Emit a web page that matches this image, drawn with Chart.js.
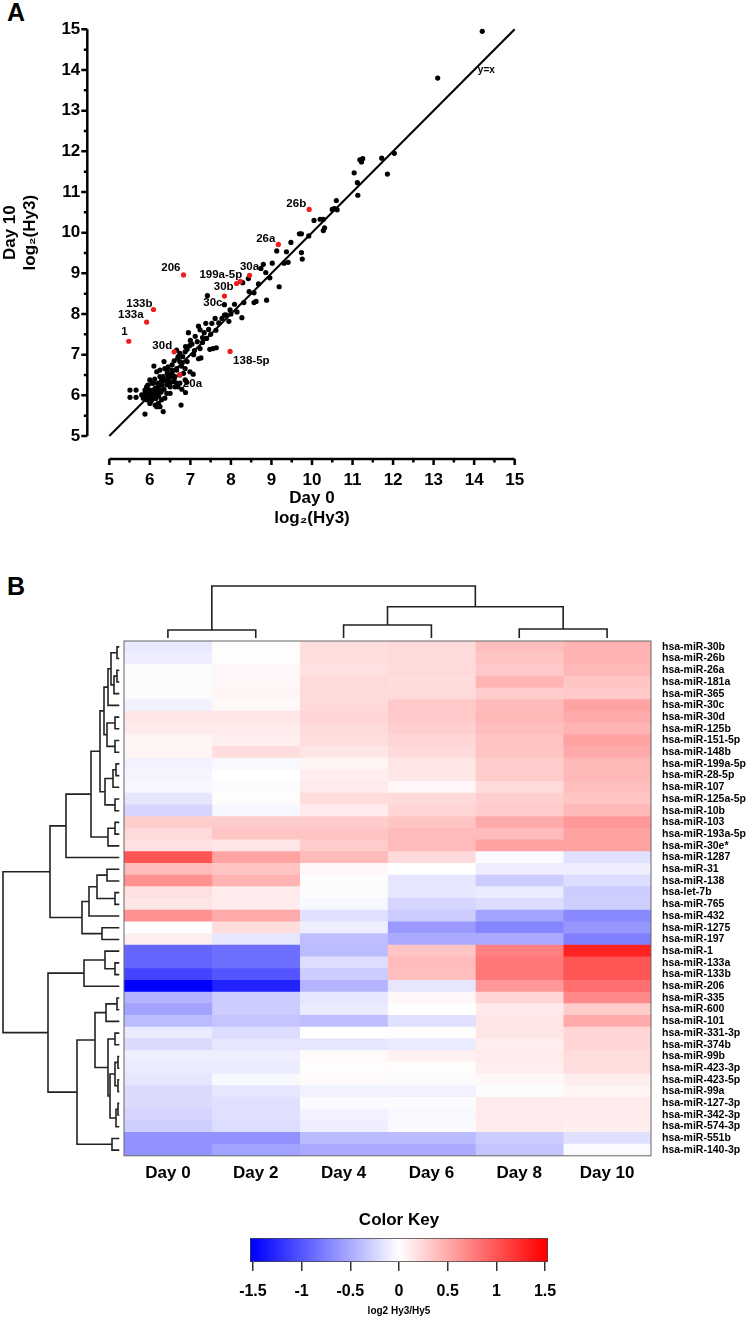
<!DOCTYPE html>
<html>
<head>
<meta charset="utf-8">
<script src="https://cdn.jsdelivr.net/npm/chart.js@4.4.0/dist/chart.umd.min.js"></script>
<style>
  body { margin: 0; background: #fff; width: 749px; height: 1321px; position: relative; overflow: hidden;
         font-family: "Liberation Sans", Arial, sans-serif; }
  canvas { position: absolute; display: block; }
  .panel { position: absolute; font-weight: bold; font-size: 25px; line-height: 25px; }
</style>
</head>
<body>
<div class="panel" style="left:7px;top:0px">A</div>
<div class="panel" style="left:7px;top:574px">B</div>
<canvas id="scatter" width="749" height="540" style="left:0;top:0"></canvas>
<canvas id="colTree" width="527" height="71" style="left:124px;top:570px"></canvas>
<canvas id="rowTree" width="124" height="515" style="left:0;top:641px"></canvas>
<canvas id="heat" width="627" height="565" style="left:122px;top:634px"></canvas>
<canvas id="key" width="400" height="121" style="left:200px;top:1200px"></canvas>
<script>
// ---------- Panel A data: log2(Hy3), Day 0 vs Day 10 ----------
const blackDay0 = [14.2, 13.1,
  12.03, 11.72, 11.18, 11.25, 11.22, 11.04, 11.86, 11.12, 11.13, 10.6, 10.55, 10.62, 10.5, 10.05, 10.2, 10.28, 10.31, 10.28,
  9.92, 9.69, 9.74, 9.48, 9.74, 9.76, 9.13, 9.37, 9.41, 9.31, 9.19, 9.02, 8.8, 8.74, 8.86, 8.96, 8.68, 8.43, 8.29, 8.57,
  8.57, 8.62, 8.88, 8.45, 8.32, 8.09, 7.98, 7.88, 7.84, 7.42, 7.84, 7.78, 7.61, 7.53, 7.38, 7.2, 7.24, 7.34, 7.63, 8.27,
  6.95, 7.17, 7.04, 6.98, 7.48, 7.56, 7.64, 7.26, 7.2, 7.24,
  7.45, 7.5, 7.7, 7.95, 8.0, 8.15, 7.3, 7.1, 7.4, 7.12, 7.3, 7.0, 6.88, 7.08,
  6.92, 6.87, 6.74, 6.66, 6.81, 6.69, 6.74, 6.92, 6.66, 6.78, 6.87, 6.99, 7.07, 6.35, 6.25, 6.42, 6.5, 6.62, 6.1, 6.17,
  6.25, 6.33, 6.0, 6.09, 5.92, 5.88, 5.8, 5.84, 6.0, 6.09, 6.91, 6.69, 6.79, 6.5, 6.58, 6.42, 6.7, 6.55, 6.6, 6.45, 6.8,
  5.51, 5.66, 5.51, 5.66, 5.88, 6.0, 5.96, 6.05, 5.92, 6.09, 6.17, 6.13, 6.25, 6.05, 6.21, 6.29, 6.33, 6.46, 6.43, 6.37,
  6.5, 6.58, 6.54, 6.66, 6.74, 6.83, 6.87, 6.74, 6.62, 6.5, 6.42, 6.37, 6.29, 6.21, 6.13, 6.0, 6.25, 5.88, 6.33, 6.77,
  6.88, 6.66, 6.5, 6.17, 5.95, 6.0, 6.1, 6.15, 6.05, 6.2, 6.3, 6.35, 6.4, 6.12, 5.98, 6.02, 6.08, 6.18, 6.22, 6.28,
  5.9, 6.45, 6.55, 6.6];
const blackDay10 = [14.95, 13.8,
  11.95, 11.83, 11.79, 11.82, 11.74, 11.47, 11.44, 11.23, 10.92, 10.79, 10.59, 10.56, 10.57, 10.3, 10.33, 10.33, 10.12, 10.05,
  9.92, 9.97, 9.97, 9.76, 9.51, 9.35, 9.55, 9.53, 9.27, 9.25, 8.67, 9.25, 9.22, 9.12, 9.02, 8.89, 8.74, 8.87, 8.77, 8.52,
  8.28, 8.31, 8.34, 8.55, 8.28, 8.24, 8.1, 7.98, 7.97, 8.45, 8.23, 7.89, 7.89, 7.77, 7.77, 7.7, 7.61, 7.54, 7.6, 7.91,
  7.54, 7.32, 7.26, 7.22, 7.13, 7.15, 7.17, 6.92, 6.9, 7.15,
  7.62, 7.5, 7.78, 7.82, 8.0, 8.05, 7.3, 7.1, 7.4, 7.45, 7.42, 7.35, 7.2, 7.0,
  7.13, 7.07, 7.03, 7.11, 6.95, 6.91, 6.83, 6.83, 6.62, 6.72, 6.66, 6.58, 6.52, 6.83, 6.62, 6.62, 6.46, 6.46, 6.72, 6.58,
  6.46, 6.38, 6.38, 6.3, 6.21, 6.13, 6.01, 5.93, 6.05, 6.13, 6.32, 6.21, 6.15, 6.3, 6.34, 6.26, 6.95, 6.75, 6.85, 6.7, 6.8,
  6.13, 6.13, 5.95, 5.95, 6.05, 6.13, 5.97, 5.89, 5.89, 6.01, 6.05, 6.17, 6.13, 6.3, 6.3, 6.38, 6.46, 6.38, 6.54, 6.66,
  6.5, 6.46, 6.62, 6.66, 6.5, 6.54, 6.38, 6.3, 6.21, 6.21, 6.05, 5.93, 5.89, 5.8, 5.76, 5.8, 5.72, 5.54, 5.6, 5.76,
  6.07, 6.3, 6.05, 5.72, 6.25, 5.98, 6.0, 5.92, 6.1, 6.2, 6.25, 6.15, 6.35, 6.4, 6.1, 5.85, 5.95, 6.1, 5.98, 6.08,
  5.98, 6.45, 6.55, 6.4];
const redNames = ['26b', '26a', '206', '30a', '199a-5p', '30b', '30c', '133b', '133a', '1', '30d', '138-5p', '20a'];
const redDay0 = [9.93, 9.17, 6.83, 8.46, 8.23, 8.14, 7.84, 6.09, 5.92, 5.48, 6.6, 7.98, 6.74];
const redDay10 = [10.57, 9.71, 8.96, 8.95, 8.8, 8.75, 8.44, 8.11, 7.8, 7.33, 7.07, 7.08, 6.51];
const identityLine = [5, 15];
const identityText = 'y=x';

// ---------- Panel B data: log2 Hy3/Hy5 per day ----------
const days = ['Day 0', 'Day 2', 'Day 4', 'Day 6', 'Day 8', 'Day 10'];
const mirNames = ['hsa-miR-30b', 'hsa-miR-26b', 'hsa-miR-26a', 'hsa-miR-181a', 'hsa-miR-365', 'hsa-miR-30c',
  'hsa-miR-30d', 'hsa-miR-125b', 'hsa-miR-151-5p', 'hsa-miR-148b', 'hsa-miR-199a-5p', 'hsa-miR-28-5p',
  'hsa-miR-107', 'hsa-miR-125a-5p', 'hsa-miR-10b', 'hsa-miR-103', 'hsa-miR-193a-5p', 'hsa-miR-30e*',
  'hsa-miR-1287', 'hsa-miR-31', 'hsa-miR-138', 'hsa-let-7b', 'hsa-miR-765', 'hsa-miR-432', 'hsa-miR-1275',
  'hsa-miR-197', 'hsa-miR-1', 'hsa-miR-133a', 'hsa-miR-133b', 'hsa-miR-206', 'hsa-miR-335', 'hsa-miR-600',
  'hsa-miR-101', 'hsa-miR-331-3p', 'hsa-miR-374b', 'hsa-miR-99b', 'hsa-miR-423-3p', 'hsa-miR-423-5p',
  'hsa-miR-99a', 'hsa-miR-127-3p', 'hsa-miR-342-3p', 'hsa-miR-574-3p', 'hsa-miR-551b', 'hsa-miR-140-3p'];
const day0Values = [-0.13, -0.1, -0.02, -0.02, -0.02, -0.08, 0.15, 0.12, 0.06, 0.06, -0.08, -0.06, -0.05, -0.15, -0.25,
  0.3, 0.22, 0.18, 1.0, 0.4, 0.65, 0.18, 0.15, 0.65, 0.0, 0.1, -0.9, -0.9, -1.1, -1.5, -0.45, -0.55, -0.4, -0.12, -0.22,
  -0.1, -0.12, -0.15, -0.22, -0.22, -0.25, -0.28, -0.65, -0.65];
const day2Values = [0.02, 0.02, 0.05, 0.05, 0.06, 0.04, 0.15, 0.12, 0.1, 0.2, -0.04, 0.01, -0.02, 0.02, -0.05,
  0.3, 0.35, 0.15, 0.55, 0.35, 0.45, 0.12, 0.12, 0.5, 0.2, -0.15, -0.85, -0.85, -1.0, -1.3, -0.3, -0.3, -0.35, -0.2, -0.15,
  -0.1, -0.12, -0.04, -0.15, -0.18, -0.18, -0.2, -0.65, -0.55];
const day4Values = [0.2, 0.2, 0.18, 0.22, 0.22, 0.22, 0.25, 0.22, 0.2, 0.15, 0.06, 0.1, 0.12, 0.2, 0.12,
  0.3, 0.35, 0.3, 0.4, 0.05, 0.02, -0.02, -0.05, -0.18, -0.1, -0.38, -0.4, -0.2, -0.3, -0.45, -0.15, -0.12, -0.38, 0.0, -0.15,
  0.03, 0.02, 0.03, -0.08, -0.03, -0.08, -0.1, -0.4, -0.5];
const day6Values = [0.22, 0.22, 0.22, 0.2, 0.22, 0.32, 0.32, 0.28, 0.25, 0.22, 0.15, 0.15, 0.05, 0.22, 0.25,
  0.35, 0.4, 0.4, 0.22, 0.0, -0.15, -0.15, -0.25, -0.3, -0.6, -0.5, 0.35, 0.4, 0.38, -0.15, 0.05, 0.0, -0.18, 0.02, -0.12,
  0.08, 0.02, -0.02, -0.08, -0.02, -0.04, -0.03, -0.4, -0.5];
const day8Values = [0.38, 0.35, 0.32, 0.45, 0.3, 0.4, 0.42, 0.38, 0.35, 0.35, 0.3, 0.3, 0.22, 0.28, 0.3,
  0.5, 0.4, 0.55, -0.03, -0.1, -0.3, -0.12, -0.2, -0.55, -0.72, -0.5, 0.75, 0.8, 0.8, 0.6, 0.25, 0.12, 0.15, 0.15, 0.1,
  0.12, 0.1, 0.04, -0.02, 0.12, 0.12, 0.12, -0.3, -0.35];
const day10Values = [0.45, 0.45, 0.42, 0.35, 0.32, 0.55, 0.5, 0.45, 0.55, 0.5, 0.42, 0.42, 0.38, 0.35, 0.42,
  0.6, 0.55, 0.55, -0.18, -0.1, -0.2, -0.3, -0.28, -0.7, -0.62, -0.75, 1.3, 1.0, 1.0, 0.85, 0.7, 0.3, 0.5, 0.25, 0.25,
  0.2, 0.2, 0.1, 0.06, 0.12, 0.12, 0.1, -0.18, -0.03];
const dayValues = [day0Values, day2Values, day4Values, day6Values, day8Values, day10Values];

// hclust style merges (negative = leaf, positive = earlier merge) and their heights
const rowMerges = [[-1, -2], [-3, -4], [2, -5], [1, 3], [4, -6], [-7, -8], [-9, -10], [6, 7], [5, 8], [-11, -12],
  [10, -13], [-14, -15], [11, 12], [9, 13], [-16, -17], [15, -18], [14, 16], [17, -19], [-20, -21], [-22, -23],
  [19, 20], [21, -24], [-25, -26], [22, 23], [18, 24], [-28, -29], [-27, 26], [27, -30], [-31, -32], [29, -33],
  [-34, -35], [-36, -37], [-38, -39], [32, 33], [-40, -41], [35, -42], [34, 36], [31, 37], [30, 38], [-43, -44],
  [39, 40], [28, 41], [25, 42]];
const rowHeights = [7, 7, 10, 13, 16, 9, 9, 17, 20, 8, 11, 9, 19, 24, 9, 16, 33, 58, 17, 9, 27, 35, 22, 42, 74,
  9, 19, 40, 7, 18, 9, 6, 6, 9, 6, 8, 14, 16, 29, 12, 47, 76, 121];
const colMerges = [[-1, -2], [-3, -4], [-5, -6], [2, 3], [1, 4]];
const colHeights = [11, 16, 12, 34.3, 55];

const keyStops = [-1.5, 0, 1.5];
const keyColors = ['#0000ff', '#ffffff', '#ff0000'];
const keyTicks = [-1.5, -1, -0.5, 0, 0.5, 1, 1.5];

Chart.defaults.font.family = '"Liberation Sans", Arial, sans-serif';
Chart.defaults.color = '#000';

const bold = (size) => ({ size: size, weight: 'bold' });
// grid hidden, but tickLength still sets the gap between axis edge and labels
const labelGap = (len) => ({ display: false, drawTicks: true, tickLength: len });

// ---------- Panel A ----------
const labelPlacement = {
  '26b': ['right', -3, -6], '26a': ['right', -3, -6], '206': ['right', -3, -7], '30a': ['center', 0, -9],
  '199a-5p': ['right', 2, -7], '30b': ['right', -3, 3], '30c': ['right', -2, 7], '133b': ['right', -1, -6],
  '133a': ['right', -3, -7], '1': ['right', -1, -9], '30d': ['right', -2, -6], '138-5p': ['left', 3, 9],
  '20a': ['left', 3, 9]
};

const offsetAxes = {
  id: 'offsetAxes',
  afterDraw(chart) {
    const { ctx, scales: { x, y }, chartArea } = chart;
    const ax = chartArea.left - 22;
    const ay = chartArea.bottom + 23;
    ctx.save();
    ctx.strokeStyle = '#000';
    ctx.lineWidth = 2.5;
    ctx.beginPath();
    ctx.moveTo(ax, y.getPixelForValue(5));
    ctx.lineTo(ax, y.getPixelForValue(15));
    ctx.moveTo(x.getPixelForValue(5), ay);
    ctx.lineTo(x.getPixelForValue(15), ay);
    for (let v = 5; v <= 15; v += 0.5) {
      const len = Number.isInteger(v) ? 6 : 3.5;
      const py = y.getPixelForValue(v);
      ctx.moveTo(ax, py);
      ctx.lineTo(ax - len, py);
      const px = x.getPixelForValue(v);
      ctx.moveTo(px, ay);
      ctx.lineTo(px, ay + len);
    }
    ctx.stroke();

    // point names and identity label
    ctx.font = 'bold 11.5px "Liberation Sans", Arial, sans-serif';
    ctx.fillStyle = '#000';
    ctx.textBaseline = 'middle';
    redNames.forEach((name, i) => {
      const [align, dx, dy] = labelPlacement[name];
      ctx.textAlign = align;
      ctx.fillText(name, x.getPixelForValue(redDay0[i]) + dx, y.getPixelForValue(redDay10[i]) + dy);
    });
    ctx.font = 'bold 10px "Liberation Sans", Arial, sans-serif';
    ctx.textAlign = 'center';
    ctx.fillText(identityText, x.getPixelForValue(14.3), y.getPixelForValue(14.0));
    ctx.restore();
  }
};

new Chart(document.getElementById('scatter'), {
  type: 'scatter',
  data: {
    datasets: [
      {
        data: identityLine.map(v => ({ x: v, y: v })),
        showLine: true, borderColor: '#000', borderWidth: 2, pointRadius: 0, clip: false, order: 3
      },
      {
        data: blackDay0.map((v, i) => ({ x: v, y: blackDay10[i] })),
        backgroundColor: '#000', borderWidth: 0, pointRadius: 2.6, clip: false, order: 2
      },
      {
        data: redDay0.map((v, i) => ({ x: v, y: redDay10[i] })),
        backgroundColor: '#ee1c1c', borderWidth: 0, pointRadius: 2.6, clip: false, order: 1
      }
    ]
  },
  options: {
    responsive: false,
    animation: false,
    layout: { padding: { top: 29.3, right: 234.3, left: 0, bottom: 11.2 } },
    plugins: { legend: { display: false }, tooltip: { enabled: false } },
    scales: {
      x: {
        min: 5, max: 15,
        grid: labelGap(34), border: { display: false },
        ticks: { stepSize: 1, padding: 0, font: bold(17), color: '#000' },
        title: { display: true, text: ['Day 0', 'log\u2082(Hy3)'], font: bold(17), color: '#000', padding: 0 },
        afterFit(scale) { scale.height = 92.8; }
      },
      y: {
        min: 5, max: 15,
        grid: labelGap(29), border: { display: false },
        ticks: { stepSize: 1, padding: 0, font: bold(17), color: '#000' },
        title: { display: true, text: ['Day 10', 'log\u2082(Hy3)'], font: bold(17), color: '#000', padding: 0 },
        afterFit(scale) { scale.width = 109.3; }
      }
    }
  },
  plugins: [offsetAxes]
});

// ---------- Panel B ----------
function heatColor(v) {
  const t = Math.min(Math.abs(v) / 1.5, 1);
  const c = Math.round(255 * (1 - t));
  return v < 0 ? `rgb(${c},${c},255)` : `rgb(255,${c},${c})`;
}

function dendroSegments(merges, heights, leafHeight) {
  const pos = [], hgt = [], segs = [];
  const childPos = c => (c < 0 ? -c - 0.5 : pos[c - 1]);
  const childH = c => (c < 0 ? leafHeight : hgt[c - 1]);
  merges.forEach(([a, b], i) => {
    const h = heights[i];
    const pa = childPos(a), pb = childPos(b);
    segs.push([[pa, childH(a)], [pa, h], [pb, h], [pb, childH(b)]]);
    pos.push((pa + pb) / 2);
    hgt.push(h);
  });
  return segs;
}

const treeLine = { showLine: true, borderColor: '#222', borderWidth: 1.6, pointRadius: 0, clip: false };
const hiddenScale = (min, max, reverse) => ({ type: 'linear', display: false, min, max, reverse });
const plainOptions = {
  responsive: false, animation: false,
  layout: { padding: 0 },
  plugins: { legend: { display: false }, tooltip: { enabled: false } }
};

new Chart(document.getElementById('colTree'), {
  type: 'scatter',
  data: {
    datasets: dendroSegments(colMerges, colHeights, 3).map(seg => ({
      ...treeLine, data: seg.map(([p, h]) => ({ x: p, y: h }))
    }))
  },
  options: { ...plainOptions, scales: { x: hiddenScale(0, 6, false), y: hiddenScale(0, 71, false) } }
});

new Chart(document.getElementById('rowTree'), {
  type: 'scatter',
  data: {
    datasets: dendroSegments(rowMerges, rowHeights, 4.7).map(seg => ({
      ...treeLine, data: seg.map(([p, h]) => ({ x: h, y: p }))
    }))
  },
  options: { ...plainOptions, scales: { x: hiddenScale(0, 124, true), y: hiddenScale(0, 44, true) } }
});

const heatFrame = {
  id: 'heatFrame',
  afterDatasetsDraw(chart) {
    const { ctx, chartArea: a } = chart;
    ctx.save();
    ctx.strokeStyle = '#666';
    ctx.lineWidth = 1;
    ctx.strokeRect(a.left, a.top, a.right - a.left, a.bottom - a.top);
    ctx.restore();
  }
};

new Chart(document.getElementById('heat'), {
  type: 'bar',
  data: {
    labels: mirNames,
    datasets: dayValues.map((vals, d) => ({
      label: days[d],
      data: vals.map(() => 1),
      backgroundColor: vals.map(heatColor),
      borderWidth: 0,
      categoryPercentage: 1,
      barPercentage: 1
    }))
  },
  options: {
    responsive: false, animation: false,
    indexAxis: 'y',
    layout: { padding: { top: 7, left: 2, right: 0, bottom: 0 } },
    plugins: { legend: { display: false }, tooltip: { enabled: false } },
    scales: {
      x: {
        type: 'linear', stacked: true, min: 0, max: 6,
        grid: labelGap(7), border: { display: false },
        afterBuildTicks(scale) { scale.ticks = days.map((d, i) => ({ value: i + 0.5 })); },
        ticks: { callback: (v, i) => days[i], font: bold(17), color: '#000', padding: 0, maxRotation: 0 },
        afterFit(scale) { scale.height = 43.2; }
      },
      y: {
        type: 'category', stacked: true, position: 'right',
        grid: labelGap(11), border: { display: false },
        ticks: { autoSkip: false, font: bold(10.5), color: '#000', padding: 0 },
        afterFit(scale) { scale.width = 98; }
      }
    }
  },
  plugins: [heatFrame]
});

new Chart(document.getElementById('key'), {
  type: 'bar',
  data: {
    labels: ['key'],
    datasets: [{
      data: [[-1.53, 1.53]],
      backgroundColor(ctx) {
        const chart = ctx.chart;
        if (!chart.chartArea) return '#fff';
        const xs = chart.scales.x;
        const g = chart.ctx.createLinearGradient(xs.getPixelForValue(keyStops[0]), 0,
          xs.getPixelForValue(keyStops[keyStops.length - 1]), 0);
        keyColors.forEach((c, i) => g.addColorStop(i / (keyColors.length - 1), c));
        return g;
      },
      borderColor: '#444', borderWidth: 1, borderSkipped: false,
      categoryPercentage: 1, barPercentage: 1
    }]
  },
  options: {
    responsive: false, animation: false,
    indexAxis: 'y',
    layout: { padding: { left: 50, right: 52, top: 0, bottom: 0 } },
    plugins: {
      legend: { display: false }, tooltip: { enabled: false },
      title: { display: true, text: 'Color Key', font: bold(17), color: '#000', padding: { top: 9.8, bottom: 7.8 } }
    },
    scales: {
      x: {
        type: 'linear', min: -1.53, max: 1.53,
        afterBuildTicks(scale) { scale.ticks = keyTicks.map(v => ({ value: v })); },
        grid: { display: true, drawOnChartArea: false, tickLength: 9, color: '#333', lineWidth: 1.5 },
        border: { display: false },
        ticks: { font: bold(16), color: '#000', padding: 11, callback: v => String(v) },
        title: { display: true, text: 'log2 Hy3/Hy5', font: bold(10), color: '#000', padding: { top: 0, bottom: 4 } },
        afterFit(scale) { scale.height = 59; }
      },
      y: { display: false }
    }
  }
});
</script>
</body>
</html>
